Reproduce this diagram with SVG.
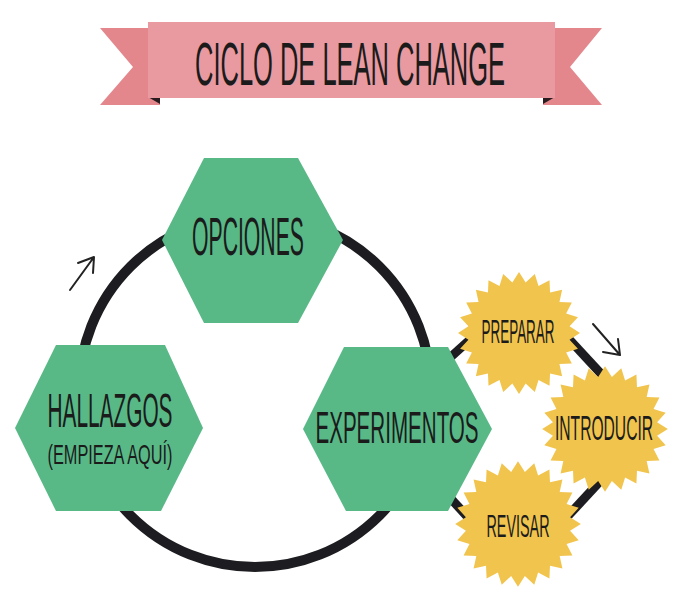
<svg xmlns="http://www.w3.org/2000/svg" xmlns:xlink="http://www.w3.org/1999/xlink" width="693" height="607" viewBox="0 0 693 607">
  <style>
    .lbl { font-family: "Liberation Sans", Arial, sans-serif; fill: #1b1b1b; text-anchor: middle; }
    .hex { fill: #58B987; }
    .star { fill: #F1C44E; }
    .tail { fill: #E4878D; }
    .fold { fill: #2a1c1e; }
    .ring { fill: none; stroke: #1d1c20; stroke-width: 10; }
    .link { stroke: #1d1c20; stroke-width: 9; stroke-linecap: butt; fill: none; }
    .arrow { stroke: #222; stroke-width: 2; fill: none; stroke-linecap: round; stroke-linejoin: round; }
  </style>
  <defs>
    <polygon id="starShape" points="61,0 50.56,6.66 58.92,15.79 47.12,19.52 52.83,30.5 40.46,31.05 43.13,43.13 31.05,40.46 30.5,52.83 19.52,47.12 15.79,58.92 6.66,50.56 0,61 -6.66,50.56 -15.79,58.92 -19.52,47.12 -30.5,52.83 -31.05,40.46 -43.13,43.13 -40.46,31.05 -52.83,30.5 -47.12,19.52 -58.92,15.79 -50.56,6.66 -61,0 -50.56,-6.66 -58.92,-15.79 -47.12,-19.52 -52.83,-30.5 -40.46,-31.05 -43.13,-43.13 -31.05,-40.46 -30.5,-52.83 -19.52,-47.12 -15.79,-58.92 -6.66,-50.56 0,-61 6.66,-50.56 15.79,-58.92 19.52,-47.12 30.5,-52.83 31.05,-40.46 43.13,-43.13 40.46,-31.05 52.83,-30.5 47.12,-19.52 58.92,-15.79 50.56,-6.66"/>
  </defs>

  <!-- Banner -->
  <g id="banner">
    <polygon class="tail" points="100,28 160,28 160,105 100,105 133,67"/>
    <polygon class="tail" points="543,28 602,28 570,67 602,105 543,105"/>
    <polygon class="fold" points="148,97 160,97 160,104"/>
    <polygon class="fold" points="543,97 555,97 543,104"/>
    <rect x="148" y="22" width="407" height="76" fill="#E99AA0"/>
    <text class="lbl" transform="translate(350,85) scale(0.41,1)" font-size="61" textLength="756" lengthAdjust="spacingAndGlyphs">CICLO DE LEAN CHANGE</text>
  </g>

  <!-- Connectors -->
  <g id="connectors">
    <circle class="ring" cx="255" cy="391" r="176"/>
    <line class="link" x1="444" y1="363" x2="474" y2="336"/>
    <line class="link" x1="567" y1="337" x2="604" y2="377"/>
    <line class="link" x1="604" y1="477" x2="567" y2="517"/>
    <line class="link" x1="443" y1="490" x2="474" y2="524"/>
    <path class="arrow" d="M70,290 L94,257 M78,263 L94,257 L93,273"/>
    <path class="arrow" d="M593,324 L620,355 M603,352 L620,355 L618,339"/>
  </g>

  <!-- Hexagon nodes -->
  <g id="node-opciones">
    <polygon class="hex" points="162,240 204,158 298,158 343,240 298,323 204,323"/>
    <text class="lbl" transform="translate(248,255) scale(0.39,1)" font-size="54" textLength="287" lengthAdjust="spacingAndGlyphs">OPCIONES</text>
  </g>
  <g id="node-hallazgos">
    <polygon class="hex" points="15,428 56,345 165,345 203,428 161,511 56,511"/>
    <text class="lbl" transform="translate(110,427) scale(0.434,1)" font-size="48" textLength="288" lengthAdjust="spacingAndGlyphs">HALLAZGOS</text>
    <text class="lbl" transform="translate(110,464) scale(0.573,1)" font-size="28" textLength="218" lengthAdjust="spacingAndGlyphs">(EMPIEZA AQUÍ)</text>
  </g>
  <g id="node-experimentos">
    <polygon class="hex" points="303,429 344,347 448,347 492,429 448,511 346,511"/>
    <text class="lbl" transform="translate(397,443) scale(0.466,1)" font-size="44" textLength="350" lengthAdjust="spacingAndGlyphs">EXPERIMENTOS</text>
  </g>

  <!-- Star nodes -->
  <g id="node-preparar">
    <use xlink:href="#starShape" class="star" transform="translate(519,333)"/>
    <text class="lbl" transform="translate(518,343) scale(0.40,1)" font-size="33" textLength="182" lengthAdjust="spacingAndGlyphs">PREPARAR</text>
  </g>
  <g id="node-introducir">
    <use xlink:href="#starShape" class="star" transform="translate(605,429) scale(1.03)"/>
    <text class="lbl" transform="translate(604,440) scale(0.434,1)" font-size="36" textLength="226" lengthAdjust="spacingAndGlyphs">INTRODUCIR</text>
  </g>
  <g id="node-revisar">
    <use xlink:href="#starShape" class="star" transform="translate(518,524) scale(1.03)"/>
    <text class="lbl" transform="translate(518,537) scale(0.46,1)" font-size="31" textLength="137" lengthAdjust="spacingAndGlyphs">REVISAR</text>
  </g>
</svg>
